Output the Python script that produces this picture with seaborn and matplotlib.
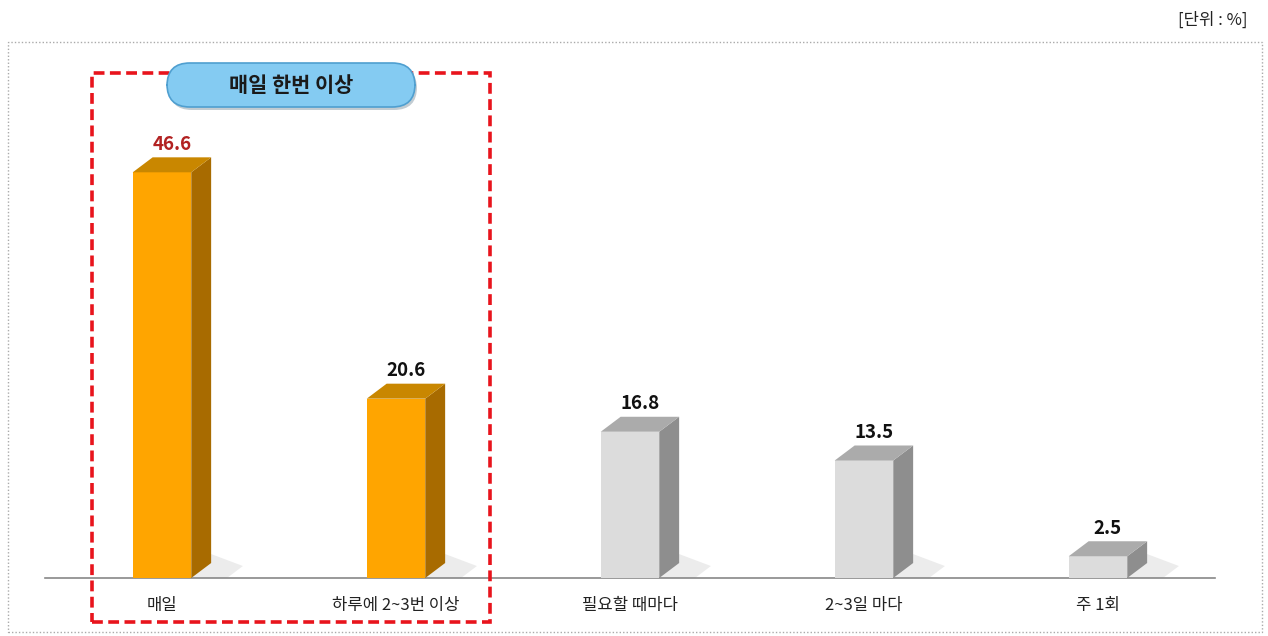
import matplotlib
matplotlib.use("Agg")
import matplotlib.pyplot as plt
import seaborn as sns
import pandas as pd
from matplotlib.patches import Polygon, Rectangle, FancyBboxPatch

# data
categories = ["매일", "하루에 2~3번 이상", "필요할 때마다", "2~3일 마다", "주 1회"]
values = [46.6, 20.6, 16.8, 13.5, 2.5]
highlight = [True, True, False, False, False]

sns.set_style("white")
plt.rcParams['font.family'] = ['Noto Sans CJK KR', 'DejaVu Sans']

front_on, side_on, top_on = "#FFA500", "#A86B00", "#C98700"
front_off, side_off, top_off = "#DCDCDC", "#8E8E8E", "#ABABAB"

df = pd.DataFrame({"cat": categories, "val": values})
colors = [front_on if h else front_off for h in highlight]

fig = plt.figure(figsize=(12.68, 6.36), dpi=100)
W, H = 1268, 636
ax = fig.add_axes([45 / W, (H - 578) / H, (1215 - 45) / W, (578 - 60) / H])

sns.barplot(data=df, x="cat", y="val", hue="cat", palette=colors, width=0.25,
            legend=False, ax=ax, saturation=1, zorder=3)

ax.set_ylim(0, 59.5)
ax.set_xlim(-0.5, 4.5)

dx, dy = 0.085, 1.72
for p, h in zip(ax.patches, highlight):
    x0, w, ht = p.get_x(), p.get_width(), p.get_height()
    x1 = x0 + w
    side_c = side_on if h else side_off
    top_c = top_on if h else top_off
    p.set_edgecolor("none")
    # soft shadow
    ax.add_patch(Polygon([[x1, 0], [x1 + dx * 1.8, 0], [x1 + dx * 2.6, dy * 0.8], [x1 + dx, dy * 1.6]],
                         closed=True, facecolor="#aaaaaa", alpha=0.22, lw=0, zorder=2))
    ax.add_patch(Polygon([[x1, 0], [x1 + dx, dy], [x1 + dx, ht + dy], [x1, ht]],
                         closed=True, facecolor=side_c, lw=0, zorder=3))
    ax.add_patch(Polygon([[x0, ht], [x0 + dx, ht + dy], [x1 + dx, ht + dy], [x1, ht]],
                         closed=True, facecolor=top_c, lw=0, zorder=3))
    lab_col = "#B22222" if x0 < 0 else "#111111"
    ax.text(x0 + w / 2 + dx / 2, ht + dy + 0.4, f"{ht:.1f}", ha="center", va="bottom",
            fontsize=13.5, fontweight="bold", color=lab_col, zorder=4)

for s in ["top", "right", "left"]:
    ax.spines[s].set_visible(False)
ax.spines["bottom"].set_color("#888888")
ax.spines["bottom"].set_linewidth(1.2)
ax.set_yticks([])
ax.set_xlabel("")
ax.set_ylabel("")
ax.set_xticks(range(len(categories)))
ax.set_xticklabels(categories, fontsize=12, color="#222222")
ax.set_xticks([i - 0.5 for i in range(len(categories) + 1)], minor=True)
ax.tick_params(axis="x", which="major", length=0, pad=14)
ax.tick_params(axis="x", which="minor", length=5, color="#888888", width=1, direction="out")
ax.patch.set_alpha(0)

# outer dotted frame
fig.patches.append(Rectangle((8 / W, 4 / H), (1262 - 8) / W, (594 - 4) / H,
                             transform=fig.transFigure, fill=False, edgecolor="#aaaaaa",
                             linestyle=(0, (1, 1.5)), lw=1))
# red dashed highlight box
fig.patches.append(Rectangle((92 / W, (H - 622) / H), (490 - 92) / W, (622 - 73) / H,
                             transform=fig.transFigure, fill=False, edgecolor="#E8141C",
                             linestyle=(0, (3, 1.5)), lw=2.6, zorder=5))
# blue label box (shadow + body)
fig.patches.append(FancyBboxPatch((169 / W, (H - 110) / H), (415 - 167) / W, (107 - 63) / H,
                                  boxstyle="round,pad=0,rounding_size=0.018",
                                  transform=fig.transFigure, facecolor="#9aaab5",
                                  edgecolor="none", alpha=0.6, zorder=6,
                                  mutation_aspect=2.0))
fig.patches.append(FancyBboxPatch((167 / W, (H - 107) / H), (415 - 167) / W, (107 - 63) / H,
                                  boxstyle="round,pad=0,rounding_size=0.018",
                                  transform=fig.transFigure, facecolor="#84CBF2",
                                  edgecolor="#4F9FD0", lw=1.2, zorder=6,
                                  mutation_aspect=2.0))
fig.text(291 / W, (H - 86) / H, "매일 한번 이상", ha="center", va="center",
         fontsize=15, fontweight="bold", color="#1a1a1a", zorder=7)

fig.text(1247 / W, (H - 20) / H, "[단위 : %]", ha="right", va="center",
         fontsize=12, color="#222222")

fig.savefig("out.png", dpi=100)
